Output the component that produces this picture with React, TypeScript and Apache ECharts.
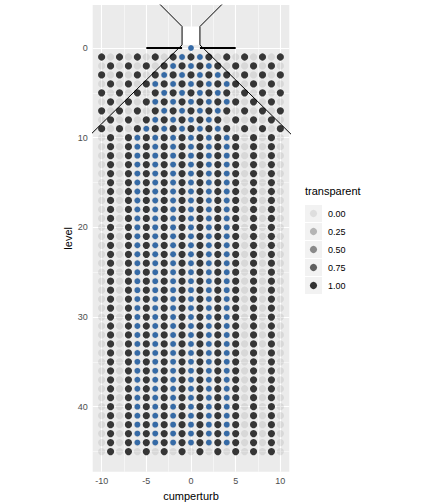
import { useEffect, useRef } from 'react'
import * as echarts from 'echarts'

const font = '"Liberation Sans", Arial, sans-serif'

// x positions of the pegs in every row
const xValues = [-10, -9, -8, -7, -6, -5, -4, -3, -2, -1, 0, 1, 2, 3, 4, 5, 6, 7, 8, 9, 10]

// transparent value per column, '1' = 1.00, '0' = 0.00
// levels 1..9 (the peg triangle)
const pegRowsTop = [
  '101010101010101010101',
  '010101010101010101010',
  '101010101010101010101',
  '010101010101010101010',
  '101010101010101010101',
  '010101010101010101010',
  '101010101010101010101',
  '010101010101010101010',
  '101010101010101010101',
]
// levels 10..45 (the bins)
const binRow = '010101010101010101010'
const binLevels = [10, 11, 12, 13, 14, 15, 16, 17, 18, 19, 20, 21, 22, 23, 24, 25, 26, 27,
  28, 29, 30, 31, 32, 33, 34, 35, 36, 37, 38, 39, 40, 41, 42, 43, 44, 45]

// balls (blue), levels 0..9
const ballRowsTop = [
  [0],
  [-1, 1],
  [-2, 0, 2],
  [-3, -1, 1, 3],
  [-4, -2, 0, 2, 4],
  [-3, -1, 1, 3],
  [-4, -2, 0, 2, 4],
  [-3, -1, 1, 3],
  [-4, -2, 0, 2],
  [-5, -3, -1, 1, 3],
]
// balls stacked in the bins, levels 10..44
const binBalls = [-6, -4, -2, 0, 2, 4]
const ballBinLevels = binLevels.slice(0, binLevels.length - 1)

const legendValues = [0, 0.25, 0.5, 0.75, 1]
const xTicks = [-10, -5, 0, 5, 10]
const xMinor = [-7.5, -2.5, 2.5, 7.5]
const yTicks = [0, 10, 20, 30, 40]
const yMinor = [5, 15, 25, 35, 45]

// funnel outline
const funnelLeft = [[-4.6, -6], [-1, -2.4], [-1, -0.35], [-12, 10.4]]
const funnelRight = [[4.6, -6], [1, -2.4], [1, -0.35], [12, 10.4]]
const shelfLeft = [[-5, 0], [-1, 0]]
const shelfRight = [[1, 0], [5, 0]]

const alphaOf = (v: number) => 0.1 + 0.9 * v

export default function App() {
  const chartRef = useRef<HTMLDivElement>(null)

  useEffect(() => {
    if (!chartRef.current) return
    const chart = echarts.init(chartRef.current, null, { renderer: 'svg' })

    const dark: number[][] = []
    const light: number[][] = []
    pegRowsTop.forEach((row, i) => {
      xValues.forEach((x, j) => (row[j] === '1' ? dark : light).push([x, i + 1]))
    })
    binLevels.forEach(level => {
      xValues.forEach((x, j) => (binRow[j] === '1' ? dark : light).push([x, level]))
    })

    const balls: number[][] = []
    ballRowsTop.forEach((row, level) => row.forEach(x => balls.push([x, level])))
    ballBinLevels.forEach(level => binBalls.forEach(x => balls.push([x, level])))

    const white = (w: number) => ({ color: '#ffffff', width: w, type: 'solid' as const })
    const gridLines = [
      ...xMinor.map(v => ({ xAxis: v, lineStyle: white(0.5) })),
      ...yMinor.map(v => ({ yAxis: v, lineStyle: white(0.5) })),
      ...xTicks.map(v => ({ xAxis: v, lineStyle: white(1.1) })),
      ...yTicks.map(v => ({ yAxis: v, lineStyle: white(1.1) })),
    ]

    const keyTop = 205
    const keyStep = 18
    const legendGraphic: any[] = [
      {
        type: 'text', left: 305, top: 185,
        style: { text: 'transparent', fontSize: 11, fontFamily: font, fill: '#000' },
      },
    ]
    legendValues.forEach((v, i) => {
      const y = keyTop + i * keyStep
      legendGraphic.push(
        { type: 'rect', shape: { x: 305, y, width: 17, height: 17 }, style: { fill: '#f2f2f2' } },
        {
          type: 'circle', shape: { cx: 313.5, cy: y + 8.5, r: 3.6 },
          style: { fill: '#333333', opacity: alphaOf(v) },
        },
        {
          type: 'text', x: 328, y: y + 8.5,
          style: { text: v.toFixed(2), fontSize: 9, fontFamily: font, fill: '#000', verticalAlign: 'middle' },
        },
      )
    })

    const lineSeries = (data: number[][], width: number) => ({
      type: 'line',
      data,
      symbol: 'none',
      clip: true,
      silent: true,
      z: 5,
      lineStyle: { color: '#000', width },
    })

    chart.setOption({
      animation: false,
      grid: {
        left: 92.7, top: 5, width: 196.6, height: 466.7,
        show: true, backgroundColor: '#ebebeb', borderWidth: 0,
        outerBoundsMode: 'none',
      },
      xAxis: {
        type: 'value', min: -11, max: 11,
        name: 'cumperturb', nameLocation: 'middle', nameGap: 11,
        nameTextStyle: { fontSize: 11, fontFamily: font, color: '#000' },
        axisLine: { show: false },
        splitLine: { show: false },
        axisTick: { show: true, customValues: xTicks, length: 3, lineStyle: { color: '#333', width: 1 } },
        axisLabel: { customValues: xTicks, fontSize: 9, fontFamily: font, color: '#4d4d4d', margin: 5 },
      },
      yAxis: {
        type: 'value', min: -4.8, max: 47.25, inverse: true,
        name: 'level', nameLocation: 'middle', nameGap: 19, nameRotate: 90,
        nameTextStyle: { fontSize: 11, fontFamily: font, color: '#000' },
        axisLine: { show: false },
        splitLine: { show: false },
        axisTick: { show: true, customValues: yTicks, length: 3, lineStyle: { color: '#333', width: 1 } },
        axisLabel: { customValues: yTicks, fontSize: 9, fontFamily: font, color: '#4d4d4d', margin: 5 },
      },
      graphic: legendGraphic,
      series: [
        {
          type: 'scatter', data: [], silent: true, z: 1,
          markLine: { silent: true, z: 1, symbol: ['none', 'none'], label: { show: false }, data: gridLines },
          markArea: {
            silent: true, z: 1, itemStyle: { color: '#ffffff' },
            data: [[{ coord: [-1, -2.4] }, { coord: [1, -0.35] }]],
          },
        },
        {
          type: 'scatter', data: light, symbol: 'circle', symbolSize: 7.2, silent: true, z: 2,
          itemStyle: { color: '#333333', opacity: alphaOf(0) },
        },
        {
          type: 'scatter', data: dark, symbol: 'circle', symbolSize: 7.2, silent: true, z: 3,
          itemStyle: { color: '#363636', opacity: 1 },
        },
        {
          type: 'scatter', data: balls, symbol: 'circle', symbolSize: 5.8, silent: true, z: 4,
          itemStyle: { color: '#356aa6', opacity: 1 },
        },
        lineSeries(funnelLeft, 1),
        lineSeries(funnelRight, 1),
        lineSeries(shelfLeft, 2),
        lineSeries(shelfRight, 2),
      ],
    })

    return () => chart.dispose()
  }, [])

  return (
    <div style={{ position: 'absolute', left: 0, top: 0 }}>
      <div ref={chartRef} style={{ width: 432, height: 504 }} />
    </div>
  )
}
